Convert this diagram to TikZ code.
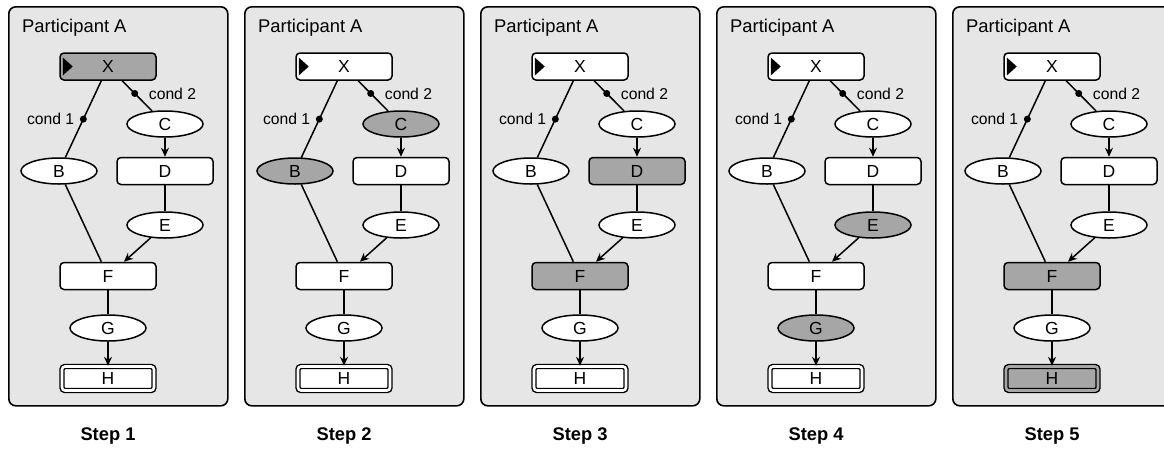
\documentclass[tikz,border=0pt]{standalone}
\usepackage{fontspec}
\setmainfont{Liberation Sans}
\usetikzlibrary{arrows.meta,calc,shapes.geometric}
\definecolor{panelbg}{HTML}{E6E6E6}
\definecolor{hl}{HTML}{A6A6A6}
\tikzset{
  panel/.style={draw, line width=1.6pt, rounded corners=7pt, fill=panelbg, inner sep=0pt, minimum width=219pt, minimum height=399pt},
  rbox/.style={draw, line width=1.5pt, rounded corners=4pt, minimum width=96pt, minimum height=27pt, inner sep=0pt, font=\fontsize{17.5}{19}\selectfont},
  ell/.style={draw, ellipse, line width=1.5pt, minimum width=76pt, minimum height=26pt, inner sep=0pt, font=\fontsize{17.5}{19}\selectfont},
  hbox/.style={draw, line width=1.4pt, double distance=2.6pt, rounded corners=3pt, minimum width=92pt, minimum height=24pt, inner sep=0pt, font=\fontsize{17.5}{19}\selectfont},
  fX/.style={fill=white}, fB/.style={fill=white}, fC/.style={fill=white},
  fD/.style={fill=white}, fE/.style={fill=white}, fF/.style={fill=white},
  fG/.style={fill=white}, fH/.style={fill=white, double=white},
  conn/.style={line width=1.5pt},
  arr/.style={conn, -{Stealth[length=9pt,width=8pt,inset=3pt]}},
  dotnode/.style={circle, fill=black, inner sep=0pt, minimum size=7pt},
  condlbl/.style={font=\fontsize{15.7}{17}\selectfont, inner sep=0pt},
  titlelbl/.style={font=\fontsize{18.4}{20}\selectfont, inner sep=0pt},
  steplbl/.style={font=\fontsize{18.3}{20}\selectfont\bfseries, inner sep=0pt},
}
\newcommand\drawpanel[3]{%
\begin{scope}[xshift=#1*236pt, #3]
  \node[panel, anchor=north west] (P#1) at (8,6) {};
  \node[titlelbl, anchor=base west] (T#1) at (22,32.5) {Participant A};
  \node[rbox, fX] (X#1) at (108,66.5) {X};
  \fill (X#1.west) ++(3.5pt,9pt) -- ++(0,-18pt) -- ++(10pt,9pt) -- cycle;
  \node[ell, fB] (B#1) at (59,171) {B};
  \node[ell, fC] (C#1) at (165,124) {C};
  \node[rbox, fD] (D#1) at (165,171) {D};
  \node[ell, fE] (E#1) at (165,225) {E};
  \node[rbox, fF] (F#1) at (108,276) {F};
  \node[ell, fG] (G#1) at (108,328) {G};
  \node[hbox, fH] (H#1) at (108,378.5) {H};
  \draw[conn] (X#1) -- node[dotnode, pos=0.5] (da#1) {} (B#1);
  \draw[conn] (X#1) -- node[dotnode, pos=0.42] (db#1) {} (C#1);
  \node[condlbl, anchor=east] (la#1) at ($(da#1.center)+(-9pt,0pt)$) {cond 1};
  \node[condlbl, anchor=west] (lb#1) at ($(db#1.center)+(14pt,0pt)$) {cond 2};
  \draw[arr] (C#1) -- (D#1);
  \draw[conn] (D#1) -- (E#1);
  \draw[arr] (E#1) -- (F#1);
  \draw[conn] (B#1) -- (F#1);
  \draw[conn] (F#1) -- (G#1);
  \draw[arr] (G#1) -- (H#1);
  \node[steplbl, anchor=base] (S#1) at (108,440) {Step #2};
\end{scope}}
\begin{document}
\begin{tikzpicture}[x=1pt, y=-1pt]
  \useasboundingbox (0,0) rectangle (1164,448);
  \clip (0,0) rectangle (1164,448);
  \drawpanel{0}{1}{fX/.style={fill=hl}}
  \drawpanel{1}{2}{fB/.style={fill=hl}, fC/.style={fill=hl}}
  \drawpanel{2}{3}{fD/.style={fill=hl}, fF/.style={fill=hl}}
  \drawpanel{3}{4}{fE/.style={fill=hl}, fG/.style={fill=hl}}
  \drawpanel{4}{5}{fF/.style={fill=hl}, fH/.style={fill=hl, double=hl}}
\end{tikzpicture}
\end{document}
